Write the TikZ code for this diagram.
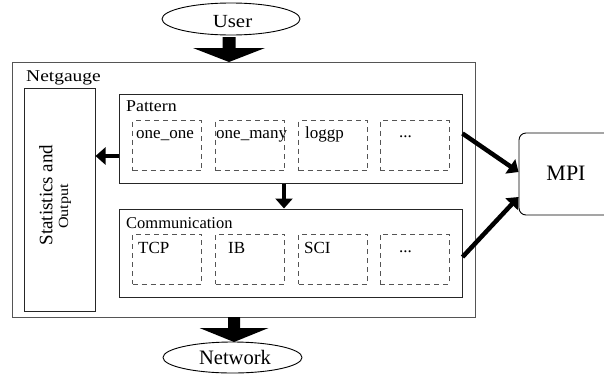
\documentclass[tikz,border=0pt]{standalone}
\usepackage{fontspec}
\setmainfont{Liberation Serif}
\usetikzlibrary{arrows.meta,calc,shapes.geometric}
\definecolor{edge}{HTML}{555555}
\tikzset{
  box/.style={draw=edge,line width=1pt,inner sep=0pt},
  sbox/.style={draw=black!85,line width=1pt,inner sep=0pt},
  dbox/.style={draw=edge,line width=0.9pt,dash pattern=on 5pt off 4pt,inner sep=0pt,minimum width=69pt,minimum height=50pt},
  oval/.style={ellipse,draw=black,line width=0.9pt,inner sep=0pt,minimum width=138pt,minimum height=32pt},
  lbl/.style={inner sep=0pt,anchor=base west,font=\fontsize{16.5}{19}\selectfont},
  itm/.style={inner sep=0pt,anchor=base west,font=\fontsize{17}{20}\selectfont},
  tarrow/.style={line width=4.5pt,-{Triangle[length=10pt,width=17pt]}},
}
\begin{document}
\begin{tikzpicture}[x=1pt,y=-1pt]
\useasboundingbox (0,0) rectangle (604,375);
% ellipses
\node[oval] (user) at (231,19) {};
\node[inner sep=0pt,anchor=base,font=\fontsize{18.5}{20}\selectfont] (usert) at (232.5,27) {\scalebox{1.13}[1]{User}};
\node[oval,minimum width=139pt,minimum height=31pt] (net) at (232.5,357.5) {};
\node[inner sep=0pt,anchor=base,font=\fontsize{20.5}{22}\selectfont] (nett) at (235,364) {Network};
% main box
\node[box,minimum width=463pt,minimum height=255pt] (ng) at (243.5,189.5) {};
\node[lbl] (ngt) at (26,81) {\scalebox{1.18}[1]{Netgauge}};
% statistics
\node[sbox,minimum width=71pt,minimum height=223pt] (stats) at (59.5,199.5) {};
\node[inner sep=0pt,rotate=90,font=\fontsize{19}{21}\selectfont] (st1) at (46,195) {Statistics and};
\node[inner sep=0pt,rotate=90,font=\fontsize{14}{16}\selectfont] (st2) at (65,206.5) {\scalebox{1.15}[1]{Output}};
% pattern
\node[sbox,minimum width=343pt,minimum height=89pt] (pat) at (290.5,138.5) {};
\node[lbl] (patt) at (126,111) {\scalebox{1.08}[1]{Pattern}};
\node[dbox] (p1) at (167,145.5) {};
\node[dbox] (p2) at (250,145.5) {};
\node[dbox] (p3) at (333,145.5) {};
\node[dbox] (p4) at (414.5,145.5) {};
\node[itm] (p1t) at (136,138) {one\_one};
\node[itm] (p2t) at (216,138) {one\_many};
\node[itm] (p3t) at (305,138) {loggp};
\node[itm] (p4t) at (399,137) {...};
% communication
\node[sbox,minimum width=343pt,minimum height=88pt] (com) at (290.5,253) {};
\node[lbl] (comt) at (126,228) {Communication};
\node[dbox] (c1) at (167,259) {};
\node[dbox] (c2) at (250,259) {};
\node[dbox] (c3) at (333,259) {};
\node[dbox] (c4) at (414.5,259) {};
\node[itm] (c1t) at (138,253) {TCP};
\node[itm] (c2t) at (228,253) {IB};
\node[itm] (c3t) at (304,253) {SCI};
\node[itm] (c4t) at (399,252) {...};
% MPI
\node[draw=black,line width=0.9pt,rounded corners=7pt,minimum width=101pt,minimum height=82pt,inner sep=0pt] (mpi) at (569.5,174) {};
\node[inner sep=0pt,anchor=base,font=\fontsize{22}{24}\selectfont] (mpit) at (566,180) {MPI};
% block arrows
\coordinate (ta) at (229,62);
\fill (ta) -- ++(36,-14) -- ++(-29.5,0) -- ++(0,-11) -- ++(-13,0) -- ++(0,11) -- ++(-29.5,0) -- cycle;
\coordinate (tb) at (234,342);
\fill (tb) -- ++(34.5,-14) -- ++(-28.5,0) -- ++(0,-11) -- ++(-12,0) -- ++(0,11) -- ++(-28.5,0) -- cycle;
% thick arrows
\draw[tarrow] ([yshift=-17.5pt]pat.west) -- ([yshift=-17.5pt]pat.west -| stats.east);
\draw[tarrow] ([xshift=-6.5pt]pat.south) -- ([xshift=-6.5pt]com.north);
\draw[tarrow] ([yshift=5pt]pat.east) -- ([yshift=2pt]mpi.west);
\draw[tarrow] ([yshift=-4pt]com.east) -- ([yshift=-23pt]mpi.west);
\end{tikzpicture}
\end{document}
